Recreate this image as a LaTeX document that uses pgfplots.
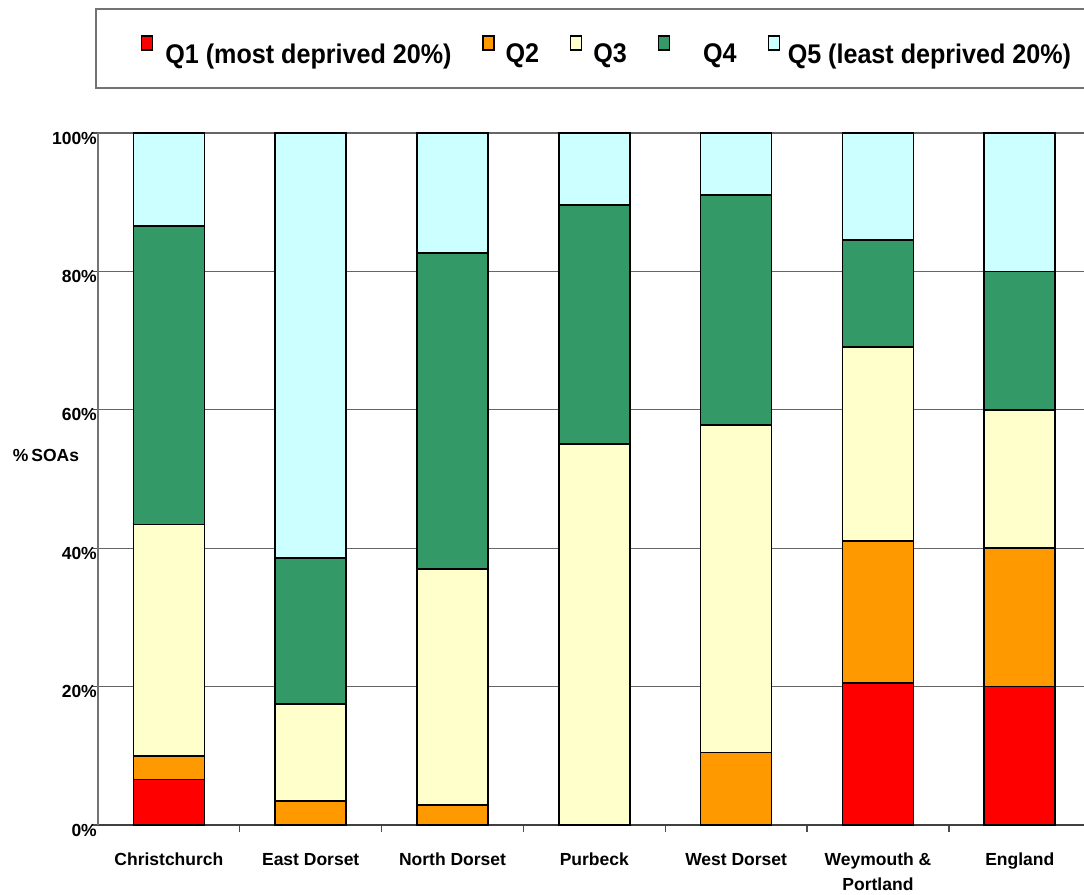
\documentclass[border=0pt]{standalone}
\usepackage{fontspec}
\setmainfont{Liberation Sans}
\usepackage{pgfplots}
\pgfplotsset{compat=1.18}
\definecolor{cQone}{HTML}{FF0000}
\definecolor{cQtwo}{HTML}{FF9900}
\definecolor{cQthree}{HTML}{FFFFCC}
\definecolor{cQfour}{HTML}{339966}
\definecolor{cQfive}{HTML}{CCFFFF}
\newcommand{\legtxt}[1]{\scalebox{0.93}[1]{#1}}
\begin{document}
\begin{tikzpicture}[x=1pt,y=1pt]
\draw[black!55, line width=1.3pt] (96,806) rectangle (1095,885);
\begin{axis}[
  at={(98pt,69pt)}, anchor=south west, scale only axis,
  width=986pt, height=692pt,
  ybar stacked, bar width=71pt,
  xmin=-0.5, xmax=6.453, ymin=0, ymax=100,
  axis x line*=bottom, axis y line*=left,
  x axis line style={black!75, line width=1.3pt},
  y axis line style={black!55, line width=1.3pt},
  tick align=outside,
  major tick length=6pt,
  xtick={0,1,2,3,4,5,6},
  xticklabels={\strut Christchurch, \strut East Dorset, \strut North Dorset, \strut Purbeck, \strut West Dorset, {\strut Weymouth \&\\\strut Portland}, \strut England},
  major x tick style={draw=none},
  minor xtick={0.5,1.5,2.5,3.5,4.5,5.5},
  minor tick length=7pt,
  minor x tick style={black!70, line width=1.3pt},
  ytick={0,20,40,60,80,100},
  yticklabels={0\%,20\%,40\%,60\%,80\%,100\%},
  y tick style={black!70, line width=1.3pt},
  ymajorgrids, major grid style={black!60, line width=1.1pt},
  ticklabel style={font=\fontsize{17.5}{25}\selectfont\bfseries},
  xticklabel style={align=center, yshift=-17pt, inner sep=0pt},
  yticklabel style={xshift=6pt, yshift=-5pt, inner sep=1pt},
  ylabel={\%\,SOAs},
  ylabel style={rotate=-90, font=\fontsize{17.5}{21}\selectfont\bfseries, at={(axis description cs:-0.0527,0.5347)}, anchor=center},
  legend columns=5,
  legend style={at={(axis description cs:0.0406,1.1185)}, anchor=west, draw=none, fill=none,
    font=\fontsize{27}{30}\selectfont\bfseries,
    /tikz/every even column/.append style={column sep=29pt}},
  legend image code/.code={\draw[#1, line width=1.2pt] (0pt,4pt) rectangle (11pt,18pt);},
]
\addplot[fill=cQone, draw=black, line width=1.6pt] coordinates {(0,6.6) (1,0) (2,0) (3,0) (4,0) (5,20.5) (6,20)};
\addplot[fill=cQtwo, draw=black, line width=1.6pt] coordinates {(0,3.4) (1,3.5) (2,2.9) (3,0) (4,10.5) (5,20.5) (6,20)};
\addplot[fill=cQthree, draw=black, line width=1.6pt] coordinates {(0,33.4) (1,14.0) (2,34.1) (3,55.1) (4,47.3) (5,28.1) (6,20)};
\addplot[fill=cQfour, draw=black, line width=1.6pt] coordinates {(0,43.2) (1,21.1) (2,45.7) (3,34.5) (4,33.2) (5,15.4) (6,20)};
\addplot[fill=cQfive, draw=black, line width=1.6pt] coordinates {(0,13.4) (1,61.4) (2,17.3) (3,10.4) (4,9.0) (5,15.5) (6,20)};
\legend{\hspace*{10pt}\legtxt{Q1 (most deprived 20\%)}, \hspace*{9pt}\legtxt{Q2}, \hspace*{9pt}\legtxt{Q3}, \hspace*{31pt}\legtxt{Q4}, \hspace*{6pt}\legtxt{Q5 (least deprived 20\%)}}
\end{axis}
\pgfresetboundingbox
\path (0,0) rectangle (1084,894);
\end{tikzpicture}
\end{document}
